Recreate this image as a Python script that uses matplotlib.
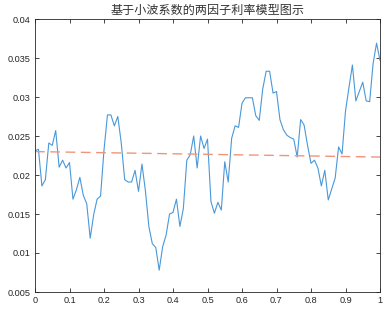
import numpy as np
import matplotlib
matplotlib.use("Agg")
import matplotlib.pyplot as plt
from matplotlib.ticker import FormatStrFormatter

# interest-rate path, one value every 0.01 on x
rate = [
    0.0231, 0.0233, 0.0186, 0.0194, 0.0241, 0.0238, 0.0257, 0.0210, 0.0219, 0.0209,
    0.0216, 0.0169, 0.0181, 0.0197, 0.0174, 0.0163, 0.0119, 0.0149, 0.0169, 0.0173,
    0.0232, 0.0277, 0.0277, 0.0263, 0.0275, 0.0241, 0.0194, 0.0191, 0.0191, 0.0206,
    0.0179, 0.0214, 0.0180, 0.0134, 0.0112, 0.0107, 0.0078, 0.0108, 0.0123, 0.0150,
    0.0152, 0.0169, 0.0134, 0.0157, 0.0219, 0.0226, 0.0250, 0.0209, 0.0250, 0.0234,
    0.0246, 0.0166, 0.0151, 0.0165, 0.0155, 0.0217, 0.0191, 0.0247, 0.0263, 0.0261,
    0.0292, 0.0299, 0.0299, 0.0299, 0.0276, 0.0270, 0.0310, 0.0333, 0.0333, 0.0305,
    0.0307, 0.0271, 0.0258, 0.0251, 0.0248, 0.0246, 0.0223, 0.0271, 0.0264, 0.0238,
    0.0215, 0.0219, 0.0209, 0.0186, 0.0206, 0.0168, 0.0182, 0.0196, 0.0236, 0.0227,
    0.0282, 0.0312, 0.0341, 0.0295, 0.0307, 0.0319, 0.0295, 0.0294, 0.0343, 0.0369,
    0.0347,
]
t = np.linspace(0, 1, len(rate))

# trend line (end points)
trend_t = [0.0, 1.0]
trend_rate = [0.0230, 0.0223]

xticks = [0, 0.1, 0.2, 0.3, 0.4, 0.5, 0.6, 0.7, 0.8, 0.9, 1]
yticks = [0.005, 0.01, 0.015, 0.02, 0.025, 0.03, 0.035, 0.04]

plt.rcParams["font.family"] = ["Liberation Sans", "DejaVu Sans"]

fig = plt.figure(figsize=(3.87, 3.12), dpi=100)
ax = fig.add_axes([35 / 387, 20 / 312, 345 / 387, 273 / 312])

ax.plot(t, rate, color="#4a98d9", lw=0.8)
ax.plot(trend_t, trend_rate, color="#f0957a", lw=1.0, dashes=(7, 4))

ax.set_xlim(0, 1)
ax.set_ylim(0.005, 0.04)
ax.set_xticks(xticks)
ax.set_yticks(yticks)
ax.xaxis.set_major_formatter(FormatStrFormatter("%g"))
ax.yaxis.set_major_formatter(FormatStrFormatter("%g"))

gray = "#262626"
for s in ax.spines.values():
    s.set_color(gray)
    s.set_linewidth(0.6)
ax.tick_params(direction="in", length=3, width=0.6, color=gray,
               labelcolor=gray, labelsize=6.6, top=True, right=True, pad=3)

ax.set_title("基于小波系数的两因子利率模型图示", fontsize=8.7,
             family=["Noto Sans CJK SC", "DejaVu Sans"], color="#333333", pad=4)

fig.savefig("out.png", dpi=100)
plt.close(fig)
